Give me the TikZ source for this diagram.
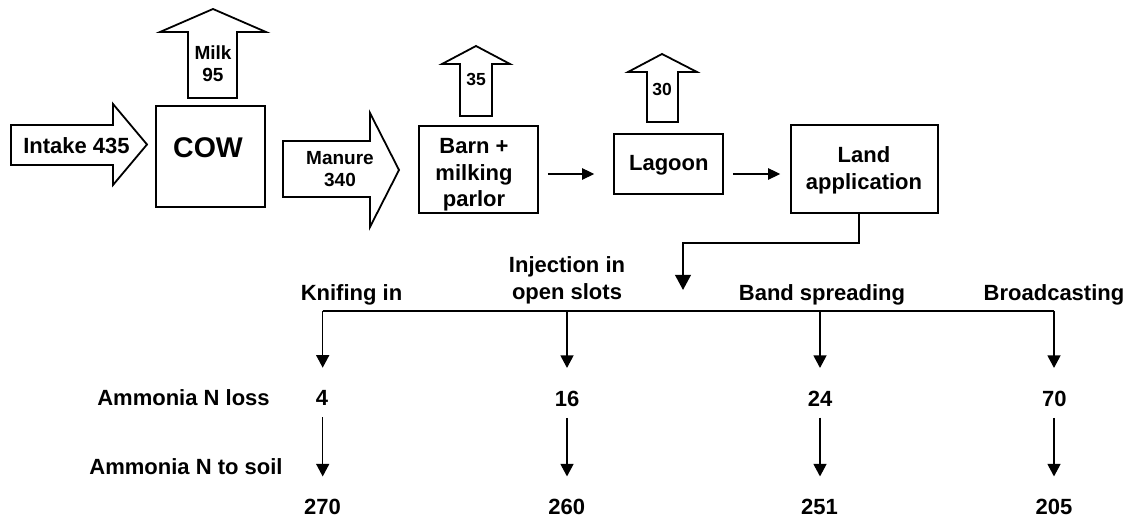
\documentclass[tikz,border=0pt]{standalone}
\usepackage{fontspec}
\setmainfont{Liberation Sans}
\usetikzlibrary{arrows.meta,calc}
\begin{document}
\begin{tikzpicture}[x=1pt,y=-1pt,
  box/.style={draw, line width=1.8pt, inner sep=0pt},
  blockarr/.style={draw, line width=1.8pt, fill=white, line join=miter},
  lbl/.style={font=\fontsize{22}{26}\selectfont\bfseries, inner sep=0pt, anchor=base},
  midlbl/.style={font=\fontsize{19}{22}\selectfont\bfseries, inner sep=0pt, anchor=base},
  smlbl/.style={font=\fontsize{17.5}{20}\selectfont\bfseries, inner sep=0pt, anchor=base},
  biglbl/.style={font=\fontsize{28.5}{32}\selectfont\bfseries, inner sep=0pt, anchor=base},
  flowarr/.style={-{Triangle[length=12pt,width=11.5pt]}, line width=1.3pt},
  droparr/.style={-{Triangle[length=12.5pt,width=13pt]}, line width=1.3pt},
  mainarr/.style={-{Triangle[length=15pt,width=15.5pt]}, line width=2.2pt, line join=miter},
  barline/.style={line width=2pt}
]
\useasboundingbox (0,0) rectangle (1130,518);

% block arrows
\draw[blockarr] (11,125) -- (113,125) -- (113,104) -- (147,144.5) -- (113,185) -- (113,165) -- (11,165) -- cycle;
\draw[blockarr] (188,98) -- (188,32) -- (160,32) -- (213,9) -- (266,32) -- (237,32) -- (237,98) -- cycle;
\draw[blockarr] (283,141) -- (370,141) -- (370,113) -- (399,170) -- (370,227) -- (370,197) -- (283,197) -- cycle;
\draw[blockarr] (460,116) -- (460,64) -- (442,64) -- (476,46) -- (510,64) -- (492,64) -- (492,116) -- cycle;
\draw[blockarr] (647,122) -- (647,72) -- (628,72) -- (662,54) -- (697,72) -- (678,72) -- (678,122) -- cycle;

% boxes
\node[box, minimum width=109pt, minimum height=101pt] (cow) at (210.5,156.5) {};
\node[box, minimum width=119pt, minimum height=87pt] (barn) at (478.5,169.5) {};
\node[box, minimum width=109pt, minimum height=60pt] (lagoon) at (668.5,164) {};
\node[box, minimum width=147pt, minimum height=88pt] (land) at (864.5,169) {};

% top texts
\node[lbl] (intake) at (76.5,153.5) {Intake 435};
\node[biglbl] (cowt) at (208,158) {COW};
\node[midlbl] (milk) at (213,59.5) {Milk};
\node[midlbl] (milkv) at (213,82) {95};
\node[midlbl] (manure) at (340,164.5) {Manure};
\node[midlbl] (manurev) at (340,186.7) {340};
\node[smlbl] (barnloss) at (476,86) {35};
\node[smlbl] (lagloss) at (662,96) {30};
\node[lbl] (barnA) at (474,154) {Barn +};
\node[lbl] (barnB) at (474,180.5) {milking};
\node[lbl] (barnC) at (474,207) {parlor};
\node[lbl] (lagt) at (668.8,171) {Lagoon};
\node[lbl] (landA) at (864,162.5) {Land};
\node[lbl] (landB) at (864,189.5) {application};

% flow arrows
\draw[flowarr] ([xshift=9pt,yshift=-4.5pt]barn.east) -- ([xshift=-19pt,yshift=-10pt]lagoon.west);
\draw[flowarr] ([xshift=9pt,yshift=-10pt]lagoon.east) -- ([xshift=-10pt,yshift=-5pt]land.west);

% land application to methods
\coordinate (split) at (683,290);
\draw[mainarr] ([xshift=-5.5pt]land.south) -- ++(0,29) -| (split);

% methods bar
\coordinate (b1) at (322.7,310.7);
\coordinate (b2) at (567,310.7);
\coordinate (b3) at (820,310.7);
\coordinate (b4) at (1054,310.7);
\draw[barline] (b1) -- (b4);

\node[lbl] (knife) at (351.5,301) {Knifing in};
\node[lbl] (injA) at (567,272.5) {Injection in};
\node[lbl] (injB) at (567,299.5) {open slots};
\node[lbl] (band) at (822,301) {Band spreading};
\node[lbl] (broad) at (1054,301) {Broadcasting};

% rows
\node[lbl] (lossl) at (183.5,406) {Ammonia N loss};
\node[lbl] (soill) at (186,474) {Ammonia N to soil};

\node[lbl] (l1) at (322,406) {4};
\node[lbl] (l2) at (567,406.5) {16};
\node[lbl] (l3) at (820,406.5) {24};
\node[lbl] (l4) at (1054.3,406.5) {70};

\node[lbl] (s1) at (322.5,514) {270};
\node[lbl] (s2) at (566.7,514) {260};
\node[lbl] (s3) at (819.5,514) {251};
\node[lbl] (s4) at (1054,514) {205};

\foreach \i in {1,2,3,4}{
  \draw[droparr, shorten >=23pt] (b\i) -- (b\i |- l\i.north);
  \draw[droparr, shorten <=11pt, shorten >=22pt] (b\i |- l\i.south) -- (b\i |- s\i.north);
}
\end{tikzpicture}
\end{document}
